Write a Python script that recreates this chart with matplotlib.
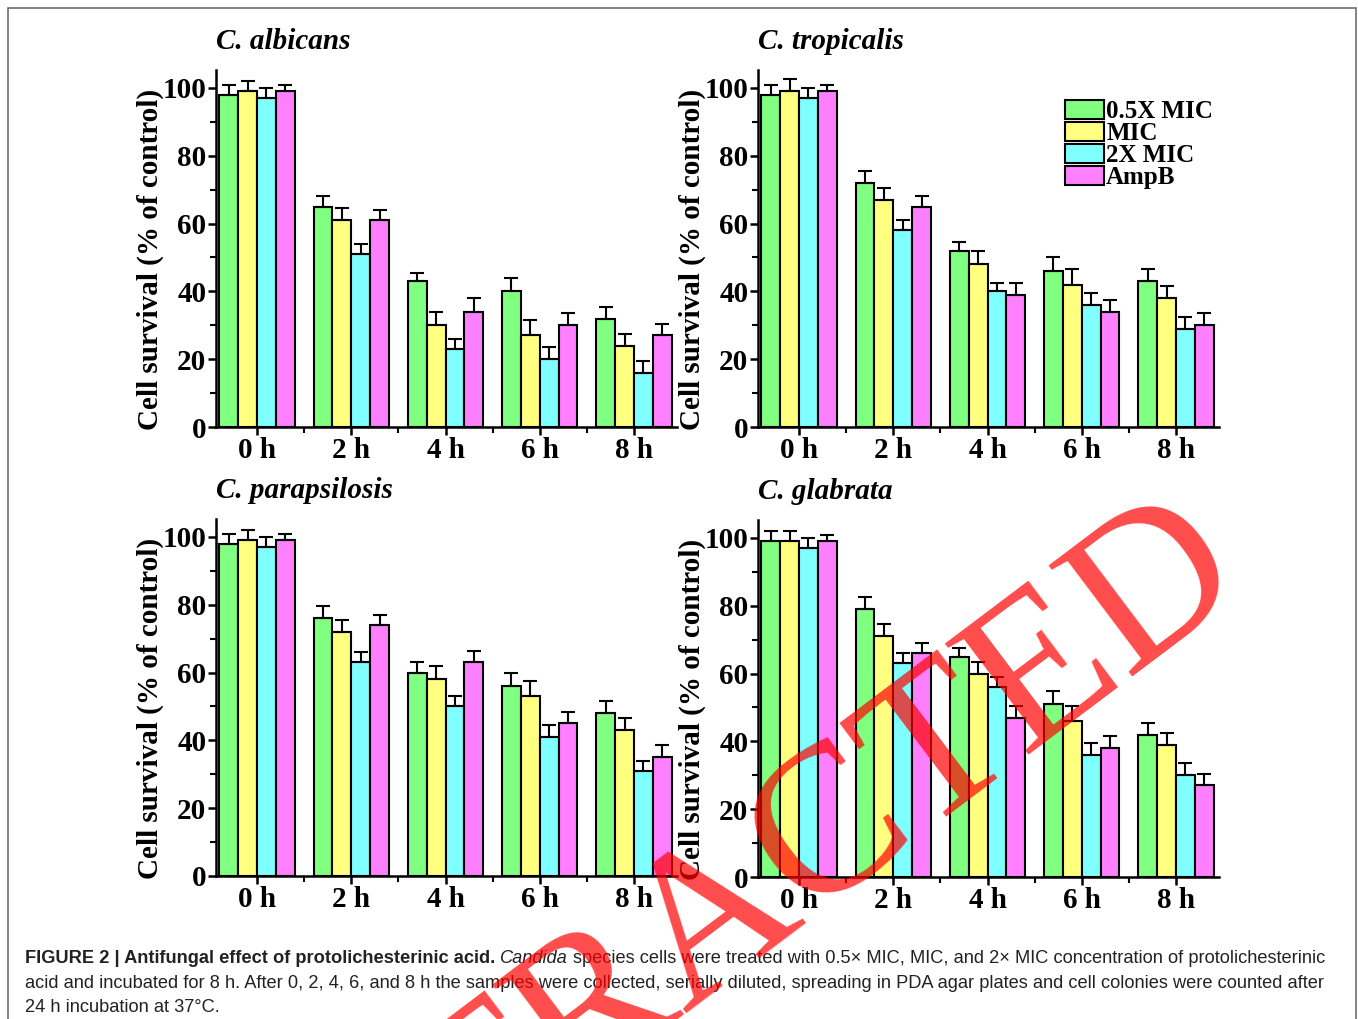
import numpy as np
import matplotlib
matplotlib.use('Agg')
from matplotlib import pyplot as plt
from matplotlib.patches import Rectangle
from matplotlib.ticker import MultipleLocator, FixedLocator

plt.rcParams['font.family'] = 'Liberation Serif'
plt.rcParams['font.weight'] = 'bold'
plt.rcParams['axes.labelweight'] = 'bold'
plt.rcParams['axes.titleweight'] = 'bold'

times = ['0 h', '2 h', '4 h', '6 h', '8 h']
treatments = ['0.5X MIC', 'MIC', '2X MIC', 'AmpB']
colors = ['#80FF80', '#FFFF80', '#80FFFF', '#FF80FF']

# cell survival (% of control), one row per treatment, one column per time point
albicans = [[98, 65, 43, 40, 32],
            [99, 61, 30, 27, 24],
            [97, 51, 23, 20, 16],
            [99, 61, 34, 30, 27]]
albicans_sd = [[3, 3, 2.5, 4, 3.5],
               [3, 3.5, 4, 4.5, 3.5],
               [3, 3, 3, 3.5, 3.5],
               [2, 3, 4, 3.5, 3.5]]

tropicalis = [[98, 72, 52, 46, 43],
              [99, 67, 48, 42, 38],
              [97, 58, 40, 36, 29],
              [99, 65, 39, 34, 30]]
tropicalis_sd = [[3, 3.5, 2.5, 4, 3.5],
                 [3.5, 3.5, 4, 4.5, 3.5],
                 [3, 3, 2.5, 3.5, 3.5],
                 [2, 3, 3.5, 3.5, 3.5]]

parapsilosis = [[98, 76, 60, 56, 48],
                [99, 72, 58, 53, 43],
                [97, 63, 50, 41, 31],
                [99, 74, 63, 45, 35]]
parapsilosis_sd = [[3, 3.5, 3, 4, 3.5],
                   [3, 3.5, 4, 4.5, 3.5],
                   [3, 3, 3, 3.5, 3],
                   [2, 3, 3.5, 3.5, 3.5]]

glabrata = [[99, 79, 65, 51, 42],
            [99, 71, 60, 46, 39],
            [97, 63, 56, 36, 30],
            [99, 66, 47, 38, 27]]
glabrata_sd = [[3, 3.5, 2.5, 4, 3.5],
               [3, 3.5, 3.5, 4.5, 3.5],
               [3, 3, 3, 3.5, 3.5],
               [2, 3, 3.5, 3.5, 3.5]]

W, H = 1358, 1019
fig = plt.figure(figsize=(W / 100, H / 100), dpi=100)


def add_panel(left, top, right, bottom):
    # pixel box -> figure fraction
    return fig.add_axes([left / W, 1 - bottom / H, (right - left) / W, (bottom - top) / H])


def draw_panel(ax, name, means, sds, legend=False):
    x = np.arange(len(times))
    width = 0.2
    for i, label in enumerate(treatments):
        m = np.array(means[i], dtype=float)
        sd = np.array(sds[i], dtype=float)
        ax.bar(x + (i - 1.5) * width, m, width, color=colors[i], edgecolor='black',
               linewidth=1.5, label=label, yerr=[np.zeros_like(sd), sd],
               error_kw=dict(ecolor='black', elinewidth=1.5, capsize=4.8, capthick=1.5))

    ax.set_xlim(-0.435, 4.456)
    ax.set_ylim(0, 105.3)
    ax.set_xticks(x)
    ax.set_xticklabels(times)
    ax.xaxis.set_minor_locator(FixedLocator(x[:-1] + 0.5))
    ax.yaxis.set_major_locator(MultipleLocator(20))
    ax.yaxis.set_minor_locator(MultipleLocator(10))
    ax.tick_params(which='major', direction='out', length=6, width=1.8, labelsize=21, pad=1)
    ax.tick_params(which='minor', direction='out', length=4, width=1.5)
    for side in ['top', 'right']:
        ax.spines[side].set_visible(False)
    for side in ['left', 'bottom']:
        ax.spines[side].set_linewidth(1.8)

    ax.set_ylabel('Cell survival (% of control)', fontsize=21, fontweight='bold', va='center')
    ax.yaxis.set_label_coords(-0.143, 0.47)
    ax.set_title(name, loc='left', fontsize=21, fontstyle='italic', fontweight='bold', pad=15)

    if legend:
        ax.legend(loc='upper left', bbox_to_anchor=((1065 - 758) / 461, (427 - 100) / 357),
                  frameon=False, prop=dict(size=18, weight='bold'), handlelength=1.55,
                  handleheight=0.8, handletextpad=0.1, labelspacing=-0.05,
                  borderpad=0, borderaxespad=0)


draw_panel(add_panel(216, 70, 677, 427), 'C. albicans', albicans, albicans_sd)
draw_panel(add_panel(758, 70, 1219, 427), 'C. tropicalis', tropicalis, tropicalis_sd, legend=True)
draw_panel(add_panel(216, 519, 677, 876), 'C. parapsilosis', parapsilosis, parapsilosis_sd)
draw_panel(add_panel(758, 520, 1219, 877), 'C. glabrata', glabrata, glabrata_sd)

# thin frame around the figure
fig.patches.append(Rectangle((8 / W, -0.01), (1356 - 8) / W, 1.01 - 8 / H,
                             transform=fig.transFigure, fill=False,
                             edgecolor='#6e6e6e', linewidth=1.2))

# caption, pieces laid out one after another
cap_size = 13.15
cap_font = 'Liberation Sans'
space = 0.278 * cap_size * 100 / 72
renderer = fig.canvas.get_renderer()

line1 = [('FIGURE 2 | Antifungal effect of protolichesterinic acid.', dict(fontweight='bold')),
         ('Candida', dict(fontstyle='italic', fontweight='normal')),
         ('species cells were treated with 0.5\u00d7 MIC, MIC, and 2\u00d7 MIC concentration of protolichesterinic',
          dict(fontweight='normal'))]
xpos = 25
for s, kw in line1:
    t = fig.text(xpos / W, 1 - 963 / H, s, fontsize=cap_size, family=cap_font, color='#222222', **kw)
    xpos += t.get_window_extent(renderer).width + space

fig.text(25 / W, 1 - 988 / H,
         'acid and incubated for 8 h. After 0, 2, 4, 6, and 8 h the samples were collected, '
         'serially diluted, spreading in PDA agar plates and cell colonies were counted after',
         fontsize=cap_size, family=cap_font, fontweight='normal', color='#222222')
fig.text(25 / W, 1 - 1012 / H, '24 h incubation at 37\u00b0C.',
         fontsize=cap_size, family=cap_font, fontweight='normal', color='#222222')

# retraction stamp across the figure
fig.text(750 / W, 1 - 960 / H, 'RETRACTED', fontsize=153, family='Liberation Serif',
         fontweight='normal', color='red', alpha=0.7, rotation=37, rotation_mode='anchor',
         ha='center', va='baseline', zorder=10)

fig.savefig('out.png', dpi=100)
